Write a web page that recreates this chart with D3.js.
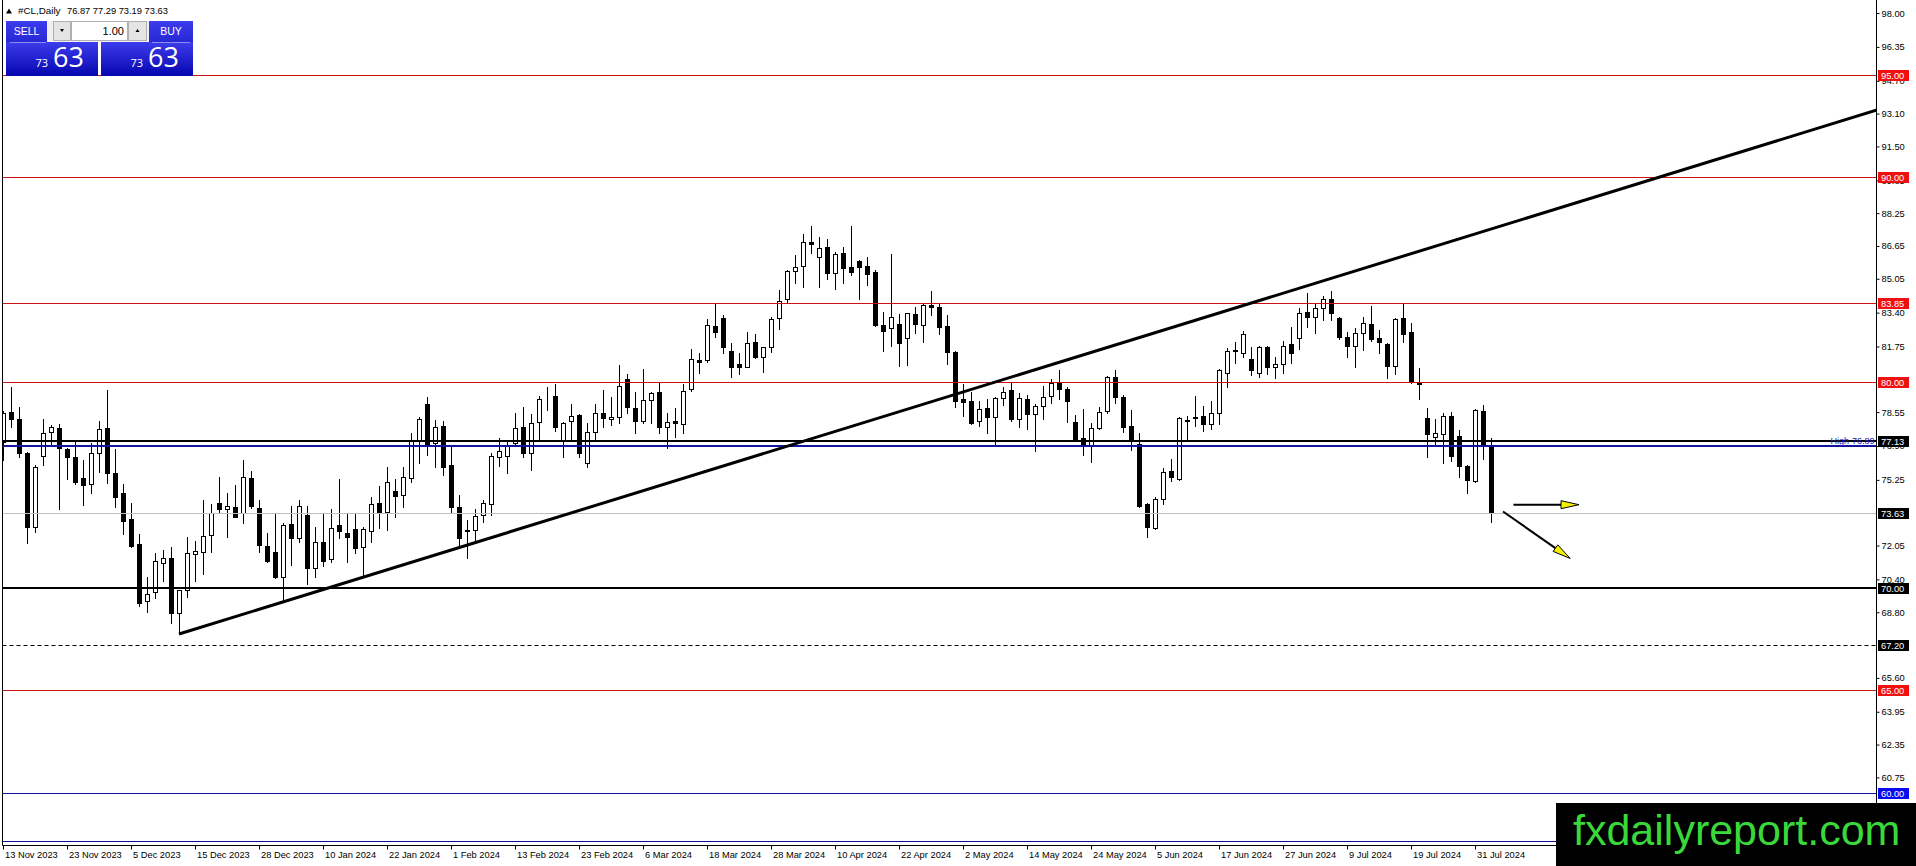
<!DOCTYPE html>
<html><head><meta charset="utf-8">
<script src="https://cdn.jsdelivr.net/npm/d3@7/dist/d3.min.js"></script>
<style>html,body{margin:0;padding:0;background:#fff;overflow:hidden}</style>
</head><body>
<svg id="c" width="1916" height="866" xmlns="http://www.w3.org/2000/svg"></svg>
<script>
// ---------------- DATA ----------------
const symbolTitle = "#CL,Daily";
const lastOHLC = [76.87, 77.29, 73.19, 73.63];
const opens = [77.11,78.54,78.20,76.54,72.94,76.41,77.60,77.76,76.75,76.35,75.32,75.05,76.58,77.76,75.57,74.59,73.32,72.12,69.33,69.77,
71.18,71.42,68.74,69.88,71.62,71.72,72.56,74.10,73.81,73.91,73.65,75.32,73.90,72.03,71.72,70.53,73.10,72.40,73.54,70.94,
72.20,71.38,73.05,72.65,72.84,71.99,72.78,74.10,73.70,74.71,74.51,75.33,77.19,78.95,77.03,77.87,75.97,73.94,72.81,72.81,
73.54,74.06,76.38,76.43,77.03,77.81,76.58,78.09,78.68,79.34,77.16,78.12,78.41,76.09,77.60,78.49,78.20,78.30,80.17,78.74,
78.14,79.14,79.52,77.81,78.12,77.97,79.66,81.09,81.09,82.75,83.12,81.53,80.88,80.77,81.95,81.22,81.71,83.12,84.05,85.45,
85.67,86.83,86.09,86.58,85.32,86.29,85.61,85.92,85.67,85.40,82.80,82.64,82.85,82.15,83.33,82.78,83.76,83.66,82.75,81.47,
79.17,79.08,78.13,78.74,78.33,79.22,79.63,78.20,79.19,78.46,78.87,79.34,79.99,79.68,78.09,77.27,76.95,77.76,78.62,80.25,
79.30,77.87,76.98,74.07,72.89,74.30,75.68,75.28,78.14,78.33,78.36,77.97,78.49,80.44,81.58,81.42,81.12,80.44,81.71,80.73,
80.90,81.87,82.15,83.42,83.17,83.61,84.05,83.12,82.20,81.77,82.39,82.85,82.15,81.87,80.82,83.12,82.46,79.97,78.25,77.32,
77.47,78.36,77.40,75.93,75.21,78.60,76.87];
const highs = [78.62,79.76,78.78,76.60,75.97,78.20,77.92,77.97,76.80,77.11,76.22,77.03,78.12,79.63,76.75,75.03,74.10,72.60,70.50,71.67,
71.83,71.96,69.90,72.48,72.27,74.27,74.06,75.37,74.59,74.99,76.22,75.70,74.27,72.64,73.65,73.16,73.99,74.27,73.99,72.97,
73.62,73.81,75.27,73.60,73.60,72.94,74.40,74.95,75.86,75.29,75.86,77.55,78.33,79.30,78.17,78.13,76.84,74.51,73.29,73.81,
74.27,76.54,77.27,77.11,78.49,78.82,78.46,79.34,79.79,79.91,78.06,78.95,78.45,78.00,78.93,79.63,79.27,80.85,80.41,79.52,
80.65,79.55,79.96,78.53,78.74,79.92,81.61,81.42,83.07,83.85,83.29,81.94,81.45,82.47,82.36,81.73,83.17,84.50,85.48,86.21,
87.22,87.62,87.07,86.97,86.34,86.61,87.62,85.97,86.13,85.48,83.45,86.26,83.32,83.40,83.66,83.80,84.47,83.89,83.28,81.55,
79.92,79.55,79.11,79.17,79.30,79.79,79.95,79.50,79.38,78.95,79.82,80.17,80.60,79.76,78.41,78.69,78.04,78.78,80.31,80.60,
79.38,78.66,77.52,74.10,74.40,75.84,76.25,78.30,78.36,79.34,78.87,79.11,80.64,81.66,81.99,82.50,81.74,81.77,81.77,81.22,
82.04,82.68,83.61,84.34,83.89,84.21,84.47,83.17,82.47,82.64,83.17,83.72,82.55,81.94,83.12,83.85,82.91,80.69,78.77,78.20,
78.49,78.57,77.68,75.98,78.68,78.90,77.29];
const lows = [76.22,77.81,76.35,72.19,72.72,75.98,76.95,73.81,75.30,75.05,74.02,74.63,75.65,75.08,73.94,72.60,72.00,69.10,68.83,69.50,
70.34,68.26,67.74,69.56,70.34,70.66,71.75,73.62,72.48,73.42,73.16,73.86,71.75,71.26,70.45,69.39,71.10,72.24,70.18,70.50,
71.05,71.23,72.40,71.26,71.70,70.53,72.24,72.89,72.81,73.42,73.94,75.16,76.06,76.46,75.86,75.49,73.70,71.96,71.43,72.32,
73.21,73.54,75.93,75.57,76.95,76.38,75.73,77.19,78.65,77.65,76.35,77.16,76.35,75.86,77.16,77.81,77.92,78.04,78.53,77.52,
78.00,78.04,77.55,76.79,77.36,77.55,79.60,80.48,81.01,82.20,81.42,80.28,80.39,80.73,81.17,80.52,81.50,82.59,83.89,84.83,
84.63,86.29,84.67,85.06,84.54,84.83,85.23,84.05,84.75,82.75,81.55,81.79,80.80,80.85,82.42,81.98,83.28,82.36,80.90,78.82,
78.36,77.97,77.88,77.55,76.95,78.90,78.13,77.81,77.71,76.67,78.20,78.98,79.17,78.09,77.14,76.46,76.14,77.71,78.49,78.98,
77.60,76.70,73.95,72.48,72.84,74.07,75.21,75.24,77.16,77.87,77.65,77.71,77.97,79.76,80.96,81.25,80.36,80.25,80.41,80.20,
80.44,80.96,81.64,82.72,82.42,83.04,83.04,82.10,81.25,80.77,81.58,82.04,81.45,80.20,80.41,81.98,79.98,79.18,76.38,76.95,
76.06,76.19,75.38,74.63,75.16,76.25,73.19];
const closes = [78.49,78.20,76.58,72.94,75.86,77.52,77.81,76.79,76.38,75.16,75.00,76.58,77.71,75.60,74.40,73.26,72.04,69.27,69.67,71.28,
71.42,68.78,69.88,71.67,71.78,72.51,73.62,73.81,73.97,73.45,75.40,74.00,72.08,71.31,70.50,73.05,72.40,73.98,70.94,72.24,
71.31,72.89,72.78,72.48,71.91,72.84,74.07,73.65,75.13,74.46,75.41,77.19,78.22,76.90,77.84,75.86,73.91,72.40,72.78,73.49,
74.10,76.43,76.66,76.90,77.76,76.58,78.04,79.18,78.71,77.81,78.04,78.36,76.58,77.60,78.53,78.28,78.33,79.83,78.79,78.14,
79.14,79.47,77.84,78.09,78.04,79.60,81.13,80.98,82.80,82.47,81.71,80.77,80.77,81.90,81.25,81.71,83.07,83.97,85.43,85.61,
86.83,86.73,86.53,85.32,86.26,85.56,85.40,85.61,85.27,82.80,82.52,83.20,81.90,83.37,82.83,83.76,83.66,82.72,81.50,79.11,
79.06,78.00,78.69,78.33,79.22,79.55,78.20,79.22,78.46,78.87,79.30,79.99,79.66,79.11,77.16,76.95,77.79,78.57,80.25,79.27,
77.84,77.19,73.98,72.94,74.32,75.65,75.40,78.25,78.17,78.25,77.97,78.49,80.60,81.53,81.53,82.36,80.60,81.71,80.73,80.88,
81.79,81.45,83.37,83.17,83.61,84.05,83.40,82.23,81.77,82.39,82.88,82.12,81.99,80.82,83.07,82.34,80.00,79.92,77.47,77.52,
78.36,76.43,75.94,75.24,78.65,76.95,73.63];

const dateBars = [0,8,16,24,32,40,48,56,64,72,80,88,96,104,112,120,128,136,144,152,160,168,176,184];
const dateLabels = ["13 Nov 2023","23 Nov 2023","5 Dec 2023","15 Dec 2023","28 Dec 2023","10 Jan 2024","22 Jan 2024","1 Feb 2024",
"13 Feb 2024","23 Feb 2024","6 Mar 2024","18 Mar 2024","28 Mar 2024","10 Apr 2024","22 Apr 2024","2 May 2024","14 May 2024",
"24 May 2024","5 Jun 2024","17 Jun 2024","27 Jun 2024","9 Jul 2024","19 Jul 2024","31 Jul 2024"];
const priceTicks = [98.00,96.35,94.70,93.10,91.50,89.85,88.25,86.65,85.05,83.40,81.75,78.55,76.90,75.25,72.05,70.40,68.80,65.60,63.95,62.35,60.75];

const redLevels = [95.00, 90.00, 83.85, 80.00, 65.00];
const blackLevels = [77.13, 70.00];
const dashedLevels = [67.20];
const bidPrice = 73.63;
const blueLevels = [60.00];
const bottomBlueLevel = 57.67;
const highLevel = 76.89;
const trendPoints = [[22, 67.74], [234.25, 93.28]];
const arrowSegments = [[[188.8, 74.04], [197.0, 74.04]], [[187.5, 73.71], [195.9, 71.42]]];
const lotSize = "1.00";
const watermark = "fxdailyreport.com";

// ---------------- SCALES ----------------
const W = 1916, H = 866;
const axisX = 1876.5, axisY = 845.5, leftX = 2.5;
const x = d3.scaleLinear().domain([0, 186]).range([3, 1491]);
const y = d3.scaleLinear().domain([95, 60]).range([74.6, 792.8]);
const py = v => Math.round(y(v)) + 0.5;
const FONT = "'Liberation Sans', Arial, sans-serif";

const svg = d3.select("#c");
svg.append("rect").attr("width", W).attr("height", H).attr("fill", "#fff");

const defs = svg.append("defs");
defs.append("clipPath").attr("id", "plot").append("rect")
  .attr("x", 3).attr("y", 0).attr("width", axisX - 3).attr("height", axisY);
const grad = defs.append("linearGradient").attr("id", "blueg").attr("x1", 0).attr("y1", 0).attr("x2", 0).attr("y2", 1);
grad.append("stop").attr("offset", "0%").attr("stop-color", "#3c3cec");
grad.append("stop").attr("offset", "100%").attr("stop-color", "#0606b0");

const plot = svg.append("g").attr("clip-path", "url(#plot)");

// ---------------- CANDLES ----------------
const bars = opens.map((o, i) => ({i, o, h: highs[i], l: lows[i], c: closes[i]}));
const cg = plot.append("g");
bars.forEach(b => {
  const cx = Math.round(x(b.i));
  cg.append("line").attr("x1", cx + 0.5).attr("x2", cx + 0.5)
    .attr("y1", Math.round(y(b.h))).attr("y2", Math.round(y(b.l)) + 1)
    .attr("stroke", "#000").attr("stroke-width", 1);
  const top = py(Math.max(b.o, b.c)), bot = py(Math.min(b.o, b.c));
  cg.append("rect").attr("x", cx - 1.5).attr("width", 4)
    .attr("y", top).attr("height", Math.max(bot - top, 0))
    .attr("fill", b.c >= b.o ? "#fff" : "#000")
    .attr("stroke", "#000").attr("stroke-width", 1);
});

// ---------------- LEVEL LINES ----------------
const lg = plot.append("g");
const hline = (v, color, w, dash) => {
  const yy = w === 2 ? Math.round(y(v)) : py(v);
  lg.append("line").attr("x1", leftX).attr("x2", axisX).attr("y1", yy).attr("y2", yy)
    .attr("stroke", color).attr("stroke-width", w).attr("stroke-dasharray", dash || null);
};
redLevels.forEach(v => hline(v, "#c81414", 1));
hline(bidPrice, "#c0c0c0", 1);
blueLevels.forEach(v => hline(v, "#1010a0", 1));
hline(bottomBlueLevel, "#1010a0", 1);
dashedLevels.forEach(v => hline(v, "#000", 1, "4,3"));
hline(highLevel, "#1414a0", 2);
blackLevels.forEach(v => hline(v, "#000", 2));

// trend line
plot.append("line")
  .attr("x1", x(trendPoints[0][0])).attr("y1", y(trendPoints[0][1]))
  .attr("x2", x(trendPoints[1][0])).attr("y2", y(trendPoints[1][1]))
  .attr("stroke", "#000").attr("stroke-width", 3);

// arrows
arrowSegments.forEach(seg => {
  const x1 = x(seg[0][0]), y1 = y(seg[0][1]), x2 = x(seg[1][0]), y2 = y(seg[1][1]);
  const ang = Math.atan2(y2 - y1, x2 - x1);
  const L = 18, hw = 4;
  const bx = x2 - L * Math.cos(ang), by = y2 - L * Math.sin(ang);
  plot.append("line").attr("x1", x1).attr("y1", y1).attr("x2", bx).attr("y2", by)
    .attr("stroke", "#000").attr("stroke-width", 2);
  const p = [[x2, y2], [bx - hw * Math.sin(ang), by + hw * Math.cos(ang)], [bx + hw * Math.sin(ang), by - hw * Math.cos(ang)]];
  plot.append("path").attr("d", "M" + p.map(q => q.join(",")).join("L") + "Z")
    .attr("fill", "#f5f000").attr("stroke", "#000").attr("stroke-width", 1);
});

// ---------------- AXES ----------------
const axR = d3.axisRight(y).tickValues(priceTicks).tickSize(3).tickPadding(2).tickFormat(d3.format(".2f"));
const gR = svg.append("g").attr("transform", `translate(${axisX},0)`).call(axR);
gR.select(".domain").remove();
gR.selectAll("text").attr("font-family", FONT).attr("font-size", 9.3).attr("fill", "#000");
gR.selectAll("line").attr("stroke", "#000");

const axB = d3.axisBottom(x).tickValues(dateBars).tickSize(4).tickPadding(1.5).tickFormat((d, i) => dateLabels[i]);
const gB = svg.append("g").attr("transform", `translate(0,${axisY})`).call(axB);
gB.select(".domain").remove();
gB.selectAll("text").attr("font-family", FONT).attr("font-size", 9.3).attr("fill", "#000")
  .attr("text-anchor", "start").attr("x", 1.5);
gB.selectAll("line").attr("stroke", "#000");

// frame lines
svg.append("line").attr("x1", axisX).attr("x2", axisX).attr("y1", 0).attr("y2", axisY + 0.5).attr("stroke", "#000");
svg.append("line").attr("x1", leftX).attr("x2", axisX).attr("y1", axisY).attr("y2", axisY).attr("stroke", "#000");
svg.append("line").attr("x1", leftX).attr("x2", leftX).attr("y1", 0).attr("y2", axisY).attr("stroke", "#000");

// High label (partly covered by the 77.13 box, as in the terminal)
const hy = Math.round(y(highLevel)) - 2.5;
svg.append("text").attr("x", axisX - 2).attr("y", hy).attr("text-anchor", "end")
  .attr("font-family", FONT).attr("font-size", 9).attr("fill", "#2020c0").text(d3.format(".2f")(highLevel));
svg.append("text").attr("x", axisX - 46).attr("y", hy).attr("text-anchor", "start")
  .attr("font-family", FONT).attr("font-size", 9).attr("fill", "#2020c0").text("High");

// ---------------- PRICE LABEL BOXES ----------------
const box = (v, fill) => {
  const yy = Math.round(y(v));
  svg.append("rect").attr("x", axisX + 1.5).attr("y", yy - 5).attr("width", 31).attr("height", 11).attr("fill", fill);
  svg.append("text").attr("x", axisX + 4.5).attr("y", yy + 3.5).attr("fill", "#fff")
    .attr("font-family", FONT).attr("font-size", 9.3).text(d3.format(".2f")(v));
};
redLevels.forEach(v => box(v, "#f01010"));
blackLevels.forEach(v => box(v, "#000"));
dashedLevels.forEach(v => box(v, "#000"));
box(bidPrice, "#000");
blueLevels.forEach(v => box(v, "#0a0af0"));

// ---------------- HEADER & TRADE PANEL ----------------
svg.append("path").attr("d", "M6,13.5 L9,8.5 L12,13.5 Z").attr("fill", "#000");
svg.append("text").attr("x", 18).attr("y", 14).attr("font-family", FONT).attr("font-size", 9.8)
  .attr("fill", "#000").text(symbolTitle);
svg.append("text").attr("x", 67).attr("y", 14).attr("font-family", FONT).attr("font-size", 9.3)
  .attr("fill", "#000").text(lastOHLC.map(d3.format(".2f")).join(" "));

const pnl = svg.append("g");
pnl.append("rect").attr("x", 6).attr("y", 21).attr("width", 41).attr("height", 55).attr("fill", "url(#blueg)");
pnl.append("rect").attr("x", 6).attr("y", 42).attr("width", 92).attr("height", 34).attr("fill", "url(#blueg)");
pnl.append("rect").attr("x", 149).attr("y", 21).attr("width", 44).attr("height", 55).attr("fill", "url(#blueg)");
pnl.append("rect").attr("x", 101).attr("y", 42).attr("width", 92).attr("height", 34).attr("fill", "url(#blueg)");
pnl.append("line").attr("x1", 10).attr("x2", 46).attr("y1", 42.5).attr("y2", 42.5).attr("stroke", "#8c8cf0");
pnl.append("line").attr("x1", 152).attr("x2", 190).attr("y1", 42.5).attr("y2", 42.5).attr("stroke", "#8c8cf0");
pnl.append("text").attr("x", 26.5).attr("y", 35).attr("text-anchor", "middle").attr("fill", "#fff")
  .attr("font-family", FONT).attr("font-size", 10.5).text("SELL");
pnl.append("text").attr("x", 171).attr("y", 35).attr("text-anchor", "middle").attr("fill", "#fff")
  .attr("font-family", FONT).attr("font-size", 10.5).text("BUY");
pnl.append("rect").attr("x", 47).attr("y", 21).attr("width", 102).attr("height", 21).attr("fill", "#f0f0f0");
pnl.append("rect").attr("x", 53.5).attr("y", 21.5).attr("width", 17).attr("height", 19).attr("fill", "#e4e4e4").attr("stroke", "#b0b0b0");
pnl.append("rect").attr("x", 71.5).attr("y", 21.5).attr("width", 56).attr("height", 19).attr("fill", "#fff").attr("stroke", "#b0b0b0");
pnl.append("rect").attr("x", 128.5).attr("y", 21.5).attr("width", 18).attr("height", 19).attr("fill", "#e4e4e4").attr("stroke", "#b0b0b0");
pnl.append("path").attr("d", "M60,29 L64,29 L62,32 Z").attr("fill", "#000");
pnl.append("path").attr("d", "M135.5,32 L139.5,32 L137.5,29 Z").attr("fill", "#000");
pnl.append("text").attr("x", 124).attr("y", 35).attr("text-anchor", "end").attr("fill", "#000")
  .attr("font-family", FONT).attr("font-size", 11).text(lotSize);
const bidStr = d3.format(".2f")(lastOHLC[3]).split(".");
[[48, 53], [143, 148]].forEach(p => {
  pnl.append("text").attr("x", p[0]).attr("y", 67).attr("text-anchor", "end").attr("fill", "#fff")
    .attr("font-family", "'Open Sans', sans-serif").attr("font-size", 11).text(bidStr[0]);
  pnl.append("text").attr("x", p[1]).attr("y", 67).attr("fill", "#fff")
    .attr("font-family", "'Open Sans', sans-serif").attr("font-size", 27).text(bidStr[1]);
});

// ---------------- WATERMARK ----------------
svg.append("rect").attr("x", 1556).attr("y", 803).attr("width", 360).attr("height", 63).attr("fill", "#000");
svg.append("text").attr("x", 1573).attr("y", 845).attr("fill", "#3ad83a")
  .attr("font-family", FONT).attr("font-size", 43).text(watermark);
</script>
</body></html>
